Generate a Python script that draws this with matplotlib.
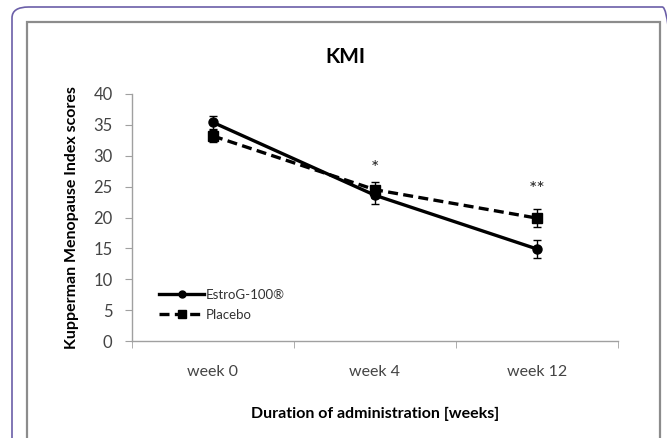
import matplotlib.pyplot as plt
from matplotlib.lines import Line2D
from matplotlib.patches import FancyBboxPatch, Rectangle

# data
weeks = ["week 0", "week 4", "week 12"]
estrog = [35.4, 23.6, 14.9]
estrog_err = [1.0, 1.4, 1.4]
placebo = [33.2, 24.5, 19.9]
placebo_err = [0.9, 1.3, 1.4]
marks = ["", "*", "**"]
mark_y = [None, 28.0, 24.6]

FONT = ["Lato", "DejaVu Sans"]
plt.rcParams["font.family"] = FONT

fig = plt.figure(figsize=(6.67, 4.38), dpi=100)
W, H = 667, 438

# frames around the chart (purple rounded outer, grey inner)
outer = FancyBboxPatch((12 / W, -0.2), 1.0, (438 - 7) / H + 0.2,
                       boxstyle="round,pad=0,rounding_size=0.025",
                       transform=fig.transFigure, fill=False,
                       edgecolor="#6b5fa8", linewidth=1.2)
fig.patches.append(outer)
inner = Rectangle((27 / W, -0.2), (660 - 27) / W, (438 - 22) / H + 0.2,
                  transform=fig.transFigure, fill=False,
                  edgecolor="#8c8c8c", linewidth=1.6)
fig.patches.append(inner)

ax = fig.add_axes([132 / W, (438 - 341) / H, (618 - 132) / W, (341 - 94) / H])
x = list(range(len(weeks)))

ax.errorbar(x, estrog, yerr=estrog_err, color="black", linewidth=2.4,
            marker="o", markersize=6.5, capsize=3, elinewidth=1,
            capthick=1, zorder=3)
ax.errorbar(x, placebo, yerr=placebo_err, color="black", linewidth=2.4,
            linestyle=(0, (3, 1.6)), marker="s", markersize=7, capsize=3,
            elinewidth=1, capthick=1, zorder=3)

for xi, m, my in zip(x, marks, mark_y):
    if m:
        ax.text(xi, my, m, ha="center", va="center", fontsize=14,
                color="#222222")

ax.set_xlim(-0.5, 2.5)
ax.set_ylim(0, 40)
ax.set_yticks(range(0, 41, 5))
ax.set_xticks(x)
ax.set_xticklabels(weeks)
ax.set_xticks([-0.5, 0.5, 1.5, 2.5], minor=True)
ax.tick_params(axis="x", which="major", length=0, pad=17, labelsize=11.5,
               labelcolor="#444444")
ax.tick_params(axis="x", which="minor", length=5, color="#a0a0a0")
ax.tick_params(axis="y", length=5, color="#a0a0a0", labelsize=12,
               labelcolor="#444444", pad=9)

for side in ["top", "right"]:
    ax.spines[side].set_visible(False)
for side in ["left", "bottom"]:
    ax.spines[side].set_color("#a0a0a0")
    ax.spines[side].set_linewidth(1)

ax.set_ylabel("Kupperman Menopause Index scores", fontsize=11.5,
              fontweight="bold", labelpad=10)
ax.set_xlabel("Duration of administration [weeks]", fontsize=11.5,
              fontweight="bold", labelpad=20)
fig.text(345 / W, 1 - 57 / H, "KMI", ha="center", va="center",
         fontsize=15, fontweight="bold")

handles = [
    Line2D([], [], color="black", linewidth=2.4, marker="o", markersize=5),
    Line2D([], [], color="black", linewidth=2.4, linestyle=(0, (3, 1.6)),
           marker="s", markersize=6),
]
leg = ax.legend(handles, ["EstroG-100\u00ae", "Placebo"], loc="lower left",
                bbox_to_anchor=(0.045, 0.06), frameon=False, fontsize=9.5,
                handlelength=3.4, handletextpad=0.1, labelspacing=0.6,
                borderaxespad=0)
for t in leg.get_texts():
    t.set_color("#333333")

fig.savefig("out.png", dpi=100)
